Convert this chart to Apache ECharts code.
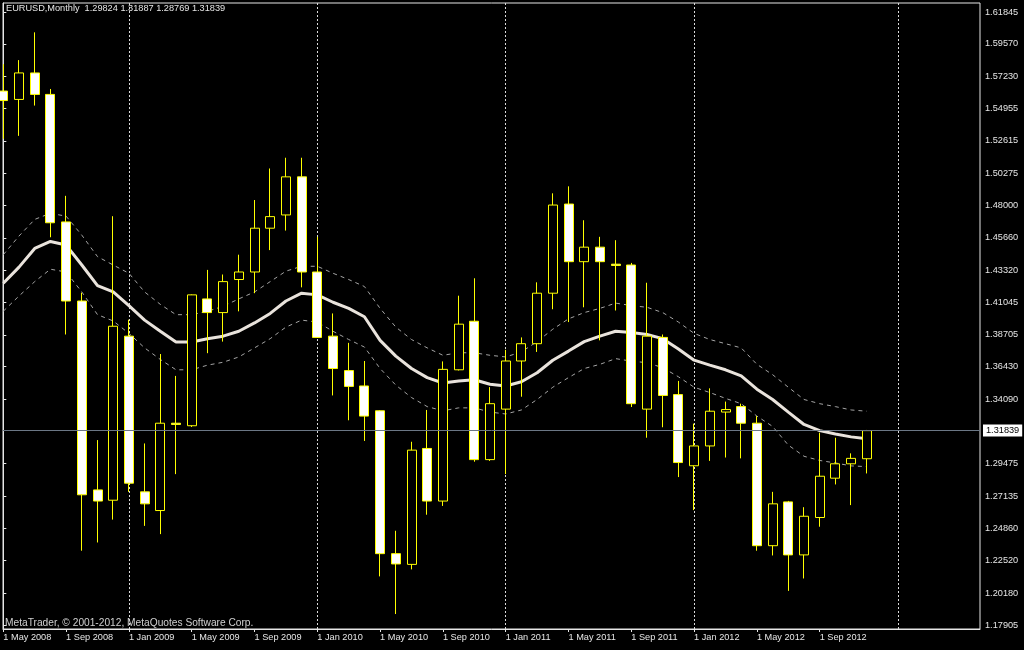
<!DOCTYPE html>
<html>
<head>
<meta charset="utf-8">
<script src="https://cdn.jsdelivr.net/npm/echarts@6/dist/echarts.min.js"></script>
<style>
html,body{margin:0;padding:0;background:#000;}
#chart{width:1024px;height:650px;}
</style>
</head>
<body>
<div id="chart"></div>
<script>
// ---- Data (EURUSD monthly, May 2008 .. Dec 2012) ----
const months = ["May 2008","Jun 2008","Jul 2008","Aug 2008","Sep 2008","Oct 2008","Nov 2008","Dec 2008",
  "Jan 2009","Feb 2009","Mar 2009","Apr 2009","May 2009","Jun 2009","Jul 2009","Aug 2009","Sep 2009","Oct 2009","Nov 2009","Dec 2009",
  "Jan 2010","Feb 2010","Mar 2010","Apr 2010","May 2010","Jun 2010","Jul 2010","Aug 2010","Sep 2010","Oct 2010","Nov 2010","Dec 2010",
  "Jan 2011","Feb 2011","Mar 2011","Apr 2011","May 2011","Jun 2011","Jul 2011","Aug 2011","Sep 2011","Oct 2011","Nov 2011","Dec 2011",
  "Jan 2012","Feb 2012","Mar 2012","Apr 2012","May 2012","Jun 2012","Jul 2012","Aug 2012","Sep 2012","Oct 2012","Nov 2012","Dec 2012"];

const openP  = [1.5618,1.5558,1.5748,1.5594,1.4680,1.4113,1.2759,1.2685,
  1.3861,1.2745,1.2611,1.3237,1.3219,1.4128,1.4030,1.4267,1.4321,1.4635,1.4730,1.5003,
  1.4321,1.3861,1.3614,1.3504,1.3326,1.2302,1.2225,1.3056,1.2679,1.3620,1.3968,1.2976,
  1.3338,1.3683,1.3807,1.4169,1.4808,1.4395,1.4499,1.4377,1.4371,1.3338,1.3852,1.3442,
  1.2932,1.3074,1.3317,1.3356,1.3237,1.2359,1.2673,1.2293,1.2561,1.2843,1.2946,1.29824];
const highP  = [1.5811,1.5840,1.6039,1.5633,1.4867,1.4172,1.3116,1.4721,
  1.3979,1.3092,1.3733,1.3576,1.4160,1.4336,1.4303,1.4445,1.4837,1.5063,1.5140,1.5140,
  1.4573,1.4024,1.3813,1.3683,1.3330,1.2466,1.3104,1.3332,1.3680,1.4151,1.4276,1.3496,
  1.3763,1.3852,1.4247,1.4885,1.4935,1.4692,1.4573,1.4549,1.4386,1.4244,1.3873,1.3540,
  1.3234,1.3487,1.3392,1.3377,1.3288,1.2745,1.2680,1.2635,1.3169,1.3133,1.3021,1.31887];
const lowP   = [1.5276,1.5297,1.5514,1.4570,1.3873,1.2323,1.2382,1.2546,
  1.2745,1.2501,1.2442,1.2872,1.3210,1.3739,1.3822,1.4039,1.4169,1.4478,1.4618,1.4211,
  1.3850,1.3436,1.3258,1.3110,1.2139,1.1869,1.2189,1.2581,1.2644,1.3615,1.2961,1.2967,
  1.2872,1.3427,1.3748,1.4054,1.3962,1.4068,1.3831,1.4045,1.3353,1.3133,1.3208,1.2851,
  1.2614,1.2967,1.2991,1.2985,1.2323,1.2289,1.2035,1.2124,1.2495,1.2798,1.2650,1.28769];
const closeP = [1.5550,1.5748,1.5594,1.4674,1.4113,1.2724,1.2679,1.3932,
  1.2807,1.2659,1.3237,1.3228,1.4157,1.4030,1.4252,1.4321,1.4635,1.4718,1.5003,1.4321,
  1.3852,1.3629,1.3501,1.3288,1.2302,1.2228,1.3044,1.2679,1.3623,1.3947,1.2976,1.3377,
  1.3683,1.3807,1.4169,1.4801,1.4395,1.4499,1.4395,1.4368,1.3377,1.3861,1.3436,1.2955,
  1.3074,1.3323,1.3335,1.3237,1.2359,1.2659,1.2293,1.2570,1.2857,1.2946,1.2985,1.31839];

const maLine = [1.4240,1.4356,1.4490,1.4540,1.4514,1.4371,1.4223,1.4178,
  1.4080,1.3976,1.3896,1.3819,1.3819,1.3843,1.3861,1.3896,1.3956,1.4024,1.4113,1.4169,
  1.4157,1.4104,1.4060,1.4000,1.3831,1.3718,1.3629,1.3564,1.3525,1.3540,1.3549,1.3516,
  1.3504,1.3534,1.3599,1.3688,1.3754,1.3822,1.3861,1.3896,1.3887,1.3873,1.3843,1.3769,
  1.3689,1.3653,1.3620,1.3576,1.3481,1.3407,1.3317,1.3228,1.3184,1.3160,1.3139,1.3125];
const upperBand = [1.4445,1.4579,1.4698,1.4742,1.4721,1.4585,1.4431,1.4371,
  1.4312,1.4178,1.4089,1.4015,1.4015,1.4039,1.4075,1.4128,1.4178,1.4252,1.4327,1.4362,
  1.4362,1.4312,1.4267,1.4217,1.4060,1.3926,1.3837,1.3777,1.3724,1.3742,1.3742,1.3724,
  1.3712,1.3748,1.3822,1.3911,1.3985,1.4030,1.4060,1.4098,1.4080,1.4068,1.4030,1.3962,
  1.3881,1.3837,1.3807,1.3777,1.3659,1.3585,1.3495,1.3407,1.3377,1.3356,1.3332,1.3323];
const lowerBand = [1.4040,1.4149,1.4252,1.4341,1.4321,1.4178,1.4015,1.3970,
  1.3881,1.3777,1.3694,1.3620,1.3620,1.3653,1.3674,1.3712,1.3777,1.3843,1.3926,1.3976,
  1.3962,1.3896,1.3837,1.3783,1.3629,1.3510,1.3421,1.3356,1.3326,1.3347,1.3347,1.3317,
  1.3303,1.3332,1.3407,1.3495,1.3564,1.3629,1.3659,1.3700,1.3682,1.3671,1.3635,1.3570,
  1.3495,1.3457,1.3415,1.3377,1.3288,1.3214,1.3080,1.3000,1.2970,1.2952,1.2931,1.2926];

// Tick labels
const yTickValues = [1.17905,1.20180,1.22520,1.24860,1.27135,1.29475,1.34090,1.36430,1.38705,1.41045,
  1.43320,1.45660,1.48000,1.50275,1.52615,1.54955,1.57230,1.59570,1.61845];
const xTickIndex  = [0,4,8,12,16,20,24,28,32,36,40,44,48,52];
const xTickLabels = ["1 May 2008","1 Sep 2008","1 Jan 2009","1 May 2009","1 Sep 2009","1 Jan 2010","1 May 2010",
  "1 Sep 2010","1 Jan 2011","1 May 2011","1 Sep 2011","1 Jan 2012","1 May 2012","1 Sep 2012"];
const yearSeparators = [8,20,32,44,57];

const symbolName = "EURUSD,Monthly";
const copyrightText = "MetaTrader, \u00A9 2001-2012, MetaQuotes Software Corp.";

// ---- Build ----
const last = closeP.length - 1;
const headerText = symbolName + "  " + openP[last].toFixed(5) + " " + highP[last].toFixed(5) + " " +
  lowP[last].toFixed(5) + " " + closeP[last].toFixed(5);

const candles = months.map((m, i) => [i, openP[i], closeP[i], lowP[i], highP[i]]);
const toXY = arr => arr.map((v, i) => [i, v]);

const FONT = "'Liberation Sans', Arial, sans-serif";
const TXT = '#e6e6e6';
const FRAME = '#e6e6e6';

const chart = echarts.init(document.getElementById('chart'), null, {renderer: 'canvas'});
chart.setOption({
  backgroundColor: '#000000',
  animation: false,
  title: [
    {text: headerText, left: 6, top: 4, padding: 0,
     textStyle: {color: TXT, fontSize: 9.2, fontWeight: 'normal', fontFamily: FONT}},
    {text: copyrightText, left: 5, top: 618, padding: 0,
     textStyle: {color: '#d0d0d0', fontSize: 10.2, fontWeight: 'normal', fontFamily: FONT}}
  ],
  grid: {left: 3, right: 44, top: 3, bottom: 21, show: true, borderColor: FRAME, borderWidth: 1,
         backgroundColor: '#000', containLabel: false},
  xAxis: {
    type: 'value', min: -0.02, max: 62.21,
    axisLine: {show: true, lineStyle: {color: FRAME, width: 1}},
    axisTick: {show: true, length: 3, customValues: xTickIndex, lineStyle: {color: FRAME}},
    axisLabel: {show: true, customValues: xTickIndex, align: 'left', margin: 4,
      color: TXT, fontSize: 9.2, fontFamily: FONT,
      formatter: v => xTickLabels[xTickIndex.indexOf(Math.round(v))] || ''},
    splitLine: {show: false}
  },
  yAxis: {
    type: 'value', position: 'right', min: 1.17618, max: 1.62493, scale: true,
    axisLine: {show: true, lineStyle: {color: FRAME, width: 1}},
    axisTick: {show: true, length: 3, customValues: yTickValues, lineStyle: {color: FRAME}},
    axisLabel: {show: true, customValues: yTickValues, margin: 5, color: TXT, fontSize: 9.2, fontFamily: FONT,
      formatter: v => v.toFixed(5)},
    splitLine: {show: false}
  },
  series: [
    {
      name: 'separators', type: 'line', data: [], silent: true, z: 1,
      markLine: {
        z: 1, symbol: ['none', 'none'], silent: true, animation: false,
        label: {show: false},
        lineStyle: {color: '#dcdcdc', width: 1, type: [2, 2]},
        data: yearSeparators.map(v => ({xAxis: v}))
      }
    },
    {
      name: 'bandUpper', type: 'line', data: toXY(upperBand), showSymbol: false, silent: true,
      lineStyle: {color: '#a4a4a4', width: 1, type: [4, 4]}, z: 2
    },
    {
      name: 'bandLower', type: 'line', data: toXY(lowerBand), showSymbol: false, silent: true,
      lineStyle: {color: '#a4a4a4', width: 1, type: [4, 4]}, z: 2
    },
    {
      name: 'MA', type: 'line', data: toXY(maLine), showSymbol: false, silent: true,
      lineStyle: {color: '#e9e3dc', width: 3}, z: 3
    },
    {
      name: 'EURUSD', type: 'candlestick', data: candles, barWidth: 9.5, z: 4,
      itemStyle: {color: '#000000', color0: '#ffffff', borderColor: '#ffff00', borderColor0: '#ffff00',
                  borderColorDoji: '#ffff00', borderWidth: 1},
      markLine: {
        precision: 5, symbol: ['none', 'none'], silent: true, animation: false,
        lineStyle: {color: '#6b7785', width: 1, type: 'solid'},
        label: {show: true, position: 'end', distance: 3, formatter: () => closeP[last].toFixed(5),
          backgroundColor: '#ffffff', color: '#000000', fontSize: 9.2, fontFamily: FONT, padding: [2, 3, 1, 3]},
        data: [{yAxis: closeP[last]}]
      }
    }
  ]
});
</script>
</body>
</html>
